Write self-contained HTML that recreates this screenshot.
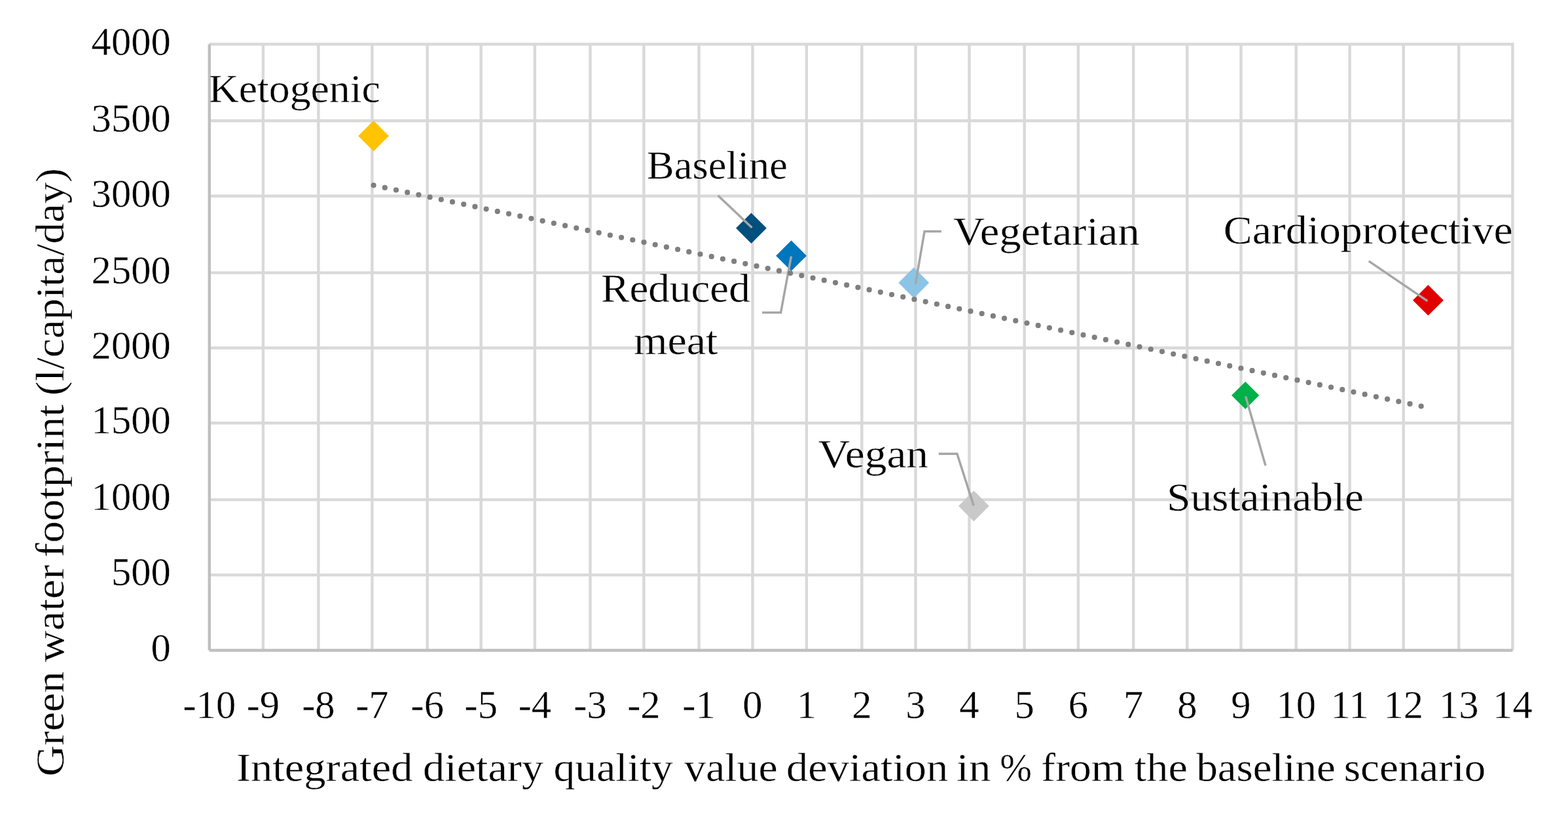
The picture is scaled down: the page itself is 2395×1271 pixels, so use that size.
<!DOCTYPE html><html><head><meta charset="utf-8"><title>Green water footprint chart</title>
<style>html,body{margin:0;padding:0;background:#fff;overflow:hidden;}svg{display:block;}text{font-family:"Liberation Serif", "Times New Roman", serif;fill:#000;stroke:#fff;stroke-width:0.4px;}</style></head><body>
<svg width="2395" height="1271" viewBox="0 0 2395 1271">
<rect width="2395" height="1271" fill="#fff"/>
<path d="M401.9 65.3V993.5M486.4 65.3V993.5M568.4 65.3V993.5M652.7 65.3V993.5M734.7 65.3V993.5M816.9 65.3V993.5M901.5 65.3V993.5M983.4 65.3V993.5M1067.6 65.3V993.5M1149.5 65.3V993.5M1231.9 65.3V993.5M1316.4 65.3V993.5M1398.5 65.3V993.5M1480.5 65.3V993.5M1564.7 65.3V993.5M1646.9 65.3V993.5M1731.2 65.3V993.5M1813.3 65.3V993.5M1895.5 65.3V993.5M1979.7 65.3V993.5M2061.6 65.3V993.5M2143.7 65.3V993.5M2228.2 65.3V993.5M2310.4 65.3V993.5M319.8 878.4H2312.6M319.8 763.4H2312.6M319.8 646.3H2312.6M319.8 531.5H2312.6M319.8 416.6H2312.6M319.8 299.5H2312.6M319.8 184.5H2312.6M319.8 67.5H2312.6" stroke="#d9d9d9" stroke-width="4.4" fill="none"/>
<path d="M319.8 67.5V993.5" stroke="#bfbfbf" stroke-width="4.4" fill="none"/>
<path d="M319.8 993.5H2310.4" stroke="#bfbfbf" stroke-width="4.4" fill="none"/>
<path d="M547.2 207.7L570.6 184.3L594.0 207.7L570.6 231.1Z" fill="#FFC300"/>
<path d="M1124.1 348.6L1147.5 325.2L1170.9 348.6L1147.5 372.0Z" fill="#004F7C"/>
<path d="M1185.2 390.7L1208.6 367.3L1232.0 390.7L1208.6 414.1Z" fill="#0076BC"/>
<path d="M1372.4 432.0L1395.8 408.6L1419.2 432.0L1395.8 455.4Z" fill="#8CC4E6"/>
<path d="M1464.0 773.0L1487.4 749.6L1510.8 773.0L1487.4 796.4Z" fill="#C9C9C9"/>
<path d="M1881.1 604.0L1902.2 582.9L1923.3 604.0L1902.2 625.1Z" fill="#00B048"/>
<path d="M2158.0 458.7L2181.4 435.3L2204.8 458.7L2181.4 482.1Z" fill="#E10000"/>
<path d="M1096.7 298.7L1148.5 347.8M1164.1 477.6H1192.6L1208.5 391.5M1398.3 434L1412.1 353.4H1437.9M1433.8 693.3H1461.9L1487.2 772.4M1902.6 605.5L1933 711.2M2090.7 398.9L2180.4 459.9" stroke="#a6a6a6" stroke-width="3.5" fill="none" stroke-linejoin="miter"/>
<path d="M570.60 283.00L2181.40 622.86" stroke="#7f7f7f" stroke-width="8.2" stroke-linecap="round" stroke-dasharray="0 17.584" fill="none"/>
<text x="260.8" y="1009.5" font-size="60.6" text-anchor="end">0</text>
<text x="260.8" y="894.4" font-size="60.6" text-anchor="end">500</text>
<text x="260.8" y="779.4" font-size="60.6" text-anchor="end">1000</text>
<text x="260.8" y="662.3" font-size="60.6" text-anchor="end">1500</text>
<text x="260.8" y="547.5" font-size="60.6" text-anchor="end">2000</text>
<text x="260.8" y="432.6" font-size="60.6" text-anchor="end">2500</text>
<text x="260.8" y="315.5" font-size="60.6" text-anchor="end">3000</text>
<text x="260.8" y="200.5" font-size="60.6" text-anchor="end">3500</text>
<text x="260.8" y="83.5" font-size="60.6" text-anchor="end">4000</text>
<text x="319.8" y="1096.6" font-size="60.6" text-anchor="middle">-10</text>
<text x="401.9" y="1096.6" font-size="60.6" text-anchor="middle">-9</text>
<text x="486.4" y="1096.6" font-size="60.6" text-anchor="middle">-8</text>
<text x="568.4" y="1096.6" font-size="60.6" text-anchor="middle">-7</text>
<text x="652.7" y="1096.6" font-size="60.6" text-anchor="middle">-6</text>
<text x="734.7" y="1096.6" font-size="60.6" text-anchor="middle">-5</text>
<text x="816.9" y="1096.6" font-size="60.6" text-anchor="middle">-4</text>
<text x="901.5" y="1096.6" font-size="60.6" text-anchor="middle">-3</text>
<text x="983.4" y="1096.6" font-size="60.6" text-anchor="middle">-2</text>
<text x="1067.6" y="1096.6" font-size="60.6" text-anchor="middle">-1</text>
<text x="1149.5" y="1096.6" font-size="60.6" text-anchor="middle">0</text>
<text x="1231.9" y="1096.6" font-size="60.6" text-anchor="middle">1</text>
<text x="1316.4" y="1096.6" font-size="60.6" text-anchor="middle">2</text>
<text x="1398.5" y="1096.6" font-size="60.6" text-anchor="middle">3</text>
<text x="1480.5" y="1096.6" font-size="60.6" text-anchor="middle">4</text>
<text x="1564.7" y="1096.6" font-size="60.6" text-anchor="middle">5</text>
<text x="1646.9" y="1096.6" font-size="60.6" text-anchor="middle">6</text>
<text x="1731.2" y="1096.6" font-size="60.6" text-anchor="middle">7</text>
<text x="1813.3" y="1096.6" font-size="60.6" text-anchor="middle">8</text>
<text x="1895.5" y="1096.6" font-size="60.6" text-anchor="middle">9</text>
<text x="1979.7" y="1096.6" font-size="60.6" text-anchor="middle">10</text>
<text x="2061.6" y="1096.6" font-size="60.6" text-anchor="middle">11</text>
<text x="2143.7" y="1096.6" font-size="60.6" text-anchor="middle">12</text>
<text x="2228.2" y="1096.6" font-size="60.6" text-anchor="middle">13</text>
<text x="2310.4" y="1096.6" font-size="60.6" text-anchor="middle">14</text>
<text x="318.66" y="156.10" font-size="60.6" textLength="262.10" lengthAdjust="spacingAndGlyphs">Ketogenic</text>
<text x="988.10" y="273.40" font-size="60.6" textLength="214.92" lengthAdjust="spacingAndGlyphs">Baseline</text>
<text x="1455.98" y="374.40" font-size="60.6" textLength="284.79" lengthAdjust="spacingAndGlyphs">Vegetarian</text>
<text x="1868.79" y="371.90" font-size="60.6" textLength="441.99" lengthAdjust="spacingAndGlyphs">Cardioprotective</text>
<text x="918.02" y="461.00" font-size="60.6" textLength="227.68" lengthAdjust="spacingAndGlyphs">Reduced</text>
<text x="967.94" y="540.50" font-size="60.6" textLength="128.55" lengthAdjust="spacingAndGlyphs">meat</text>
<text x="1249.57" y="714.30" font-size="60.6" textLength="168.48" lengthAdjust="spacingAndGlyphs">Vegan</text>
<text x="1782.19" y="779.90" font-size="60.6" textLength="300.78" lengthAdjust="spacingAndGlyphs">Sustainable</text>
<text x="360.93" y="1192.50" font-size="60.6" textLength="269.51" lengthAdjust="spacingAndGlyphs">Integrated</text>
<text x="646.14" y="1192.50" font-size="60.6" textLength="183.92" lengthAdjust="spacingAndGlyphs">dietary</text>
<text x="845.56" y="1192.50" font-size="60.6" textLength="182.36" lengthAdjust="spacingAndGlyphs">quality</text>
<text x="1045.30" y="1192.50" font-size="60.6" textLength="142.31" lengthAdjust="spacingAndGlyphs">value</text>
<text x="1201.13" y="1192.50" font-size="60.6" textLength="247.15" lengthAdjust="spacingAndGlyphs">deviation</text>
<text x="1461.01" y="1192.50" font-size="60.6" textLength="52.48" lengthAdjust="spacingAndGlyphs">in</text>
<text x="1527.27" y="1192.50" font-size="60.6" textLength="48.75" lengthAdjust="spacingAndGlyphs">%</text>
<text x="1590.34" y="1192.50" font-size="60.6" textLength="127.50" lengthAdjust="spacingAndGlyphs">from</text>
<text x="1732.85" y="1192.50" font-size="60.6" textLength="81.07" lengthAdjust="spacingAndGlyphs">the</text>
<text x="1827.40" y="1192.50" font-size="60.6" textLength="212.37" lengthAdjust="spacingAndGlyphs">baseline</text>
<text x="2052.82" y="1192.50" font-size="60.6" textLength="216.32" lengthAdjust="spacingAndGlyphs">scenario</text>
<g transform="translate(96.6 0) rotate(-90)">
<text x="-1186.11" y="0.00" font-size="60.6" textLength="160.32" lengthAdjust="spacingAndGlyphs">Green</text>
<text x="-1011.60" y="0.00" font-size="60.6" textLength="148.52" lengthAdjust="spacingAndGlyphs">water</text>
<text x="-851.50" y="0.00" font-size="60.6" textLength="233.24" lengthAdjust="spacingAndGlyphs">footprint</text>
<text x="-604.16" y="0.00" font-size="60.6" textLength="347.31" lengthAdjust="spacingAndGlyphs">(l/capita/day)</text>
</g>
</svg></body></html>
